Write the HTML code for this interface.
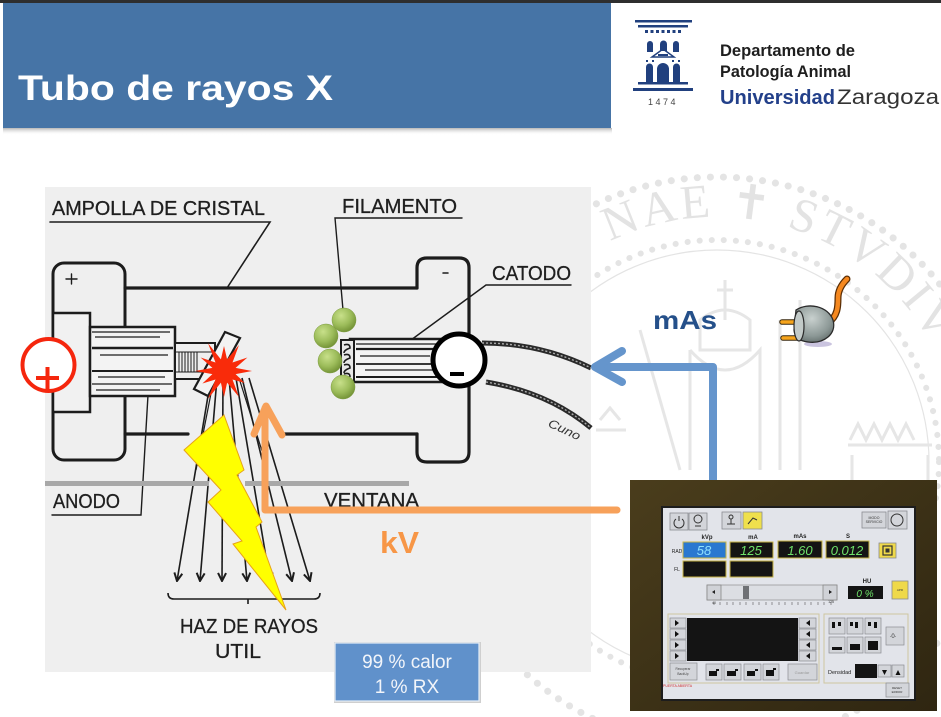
<!DOCTYPE html>
<html><head><meta charset="utf-8"><style>
html,body{margin:0;padding:0;width:941px;height:717px;overflow:hidden;background:#fff}
svg{display:block}
</style></head><body>
<svg width="941" height="717" viewBox="0 0 941 717" xmlns="http://www.w3.org/2000/svg" font-family="'Liberation Sans', sans-serif">
<defs>
 <radialGradient id="gb" cx="0.38" cy="0.32" r="0.75"><stop offset="0" stop-color="#c8e08a"/><stop offset="0.55" stop-color="#9cbc5a"/><stop offset="1" stop-color="#6d8c30"/></radialGradient>
 <radialGradient id="plg" cx="0.45" cy="0.35" r="0.8"><stop offset="0" stop-color="#c9d1cf"/><stop offset="0.6" stop-color="#8c9896"/><stop offset="1" stop-color="#505a58"/></radialGradient>
 <linearGradient id="sh" x1="0" y1="0" x2="0" y2="1"><stop offset="0" stop-color="#7a7a7a" stop-opacity="0.55"/><stop offset="1" stop-color="#fff" stop-opacity="0"/></linearGradient>
 <linearGradient id="frame" x1="0" y1="0" x2="1" y2="1"><stop offset="0" stop-color="#4a3d1c"/><stop offset="1" stop-color="#2f2611"/></linearGradient>
 <path id="arc" d="M472 462 A245 245 0 1 1 962 462"/>
 <marker id="ah" viewBox="0 0 10 10" refX="9" refY="5" markerWidth="10" markerHeight="10" markerUnits="userSpaceOnUse" orient="auto">
  <path d="M1 1 L9 5 L1 9" fill="none" stroke="#1c1c1c" stroke-width="2"/>
 </marker>
</defs>

<!-- watermark seal -->
<g fill="none" stroke="#e4e4e4">
 <circle cx="717" cy="462" r="285" stroke-width="7" stroke-dasharray="0.1 13" stroke-linecap="round"/>
 <circle cx="717" cy="462" r="222" stroke-width="6" stroke-dasharray="0.1 12" stroke-linecap="round"/>
 <circle cx="717" cy="462" r="212" stroke-width="1.2"/>
</g>
<text font-family="'Liberation Serif', 'DejaVu Serif', serif" font-size="48" fill="#e3e3e3"><textPath href="#arc" startOffset="274" textLength="372" lengthAdjust="spacing">NAE ✝ STVDIV</textPath></text>
<g fill="none" stroke="#e6e6e6" stroke-width="3">
 <path d="M725 280 v40 M717 290 h16"/>
 <path d="M700 320 q25 -20 50 0 v30 h-50 z"/>
 <path d="M690 350 q35 40 70 0 v120 M690 350 v120"/>
 <path d="M640 330 l40 140 M780 320 v150 M800 300 v170"/>
 <path d="M850 440 l8 -16 l8 16 l8 -16 l8 16 l8 -16 l8 16 l8 -16 l8 16 M848 445 h84 M852 455 v25 M928 455 v25"/>
 <path d="M600 420 l10 -12 l10 12 M596 430 h30"/>
</g>

<!-- top dark bar & banner -->
<rect x="0" y="0" width="941" height="3" fill="#2e2e2e"/>
<rect x="3" y="128" width="609" height="7" fill="url(#sh)"/>
<rect x="3" y="3" width="608" height="125" fill="#4674a6"/>
<text x="18" y="100" font-size="35" font-weight="bold" fill="#ffffff" textLength="315" lengthAdjust="spacingAndGlyphs">Tubo de rayos X</text>

<!-- logo -->
<g fill="#21407e">
 <rect x="635" y="20" width="57" height="2.5"/>
 <rect x="638" y="25" width="50" height="2.5"/>
 <rect x="645" y="30" width="3" height="3"/><rect x="650.5" y="30" width="3" height="3"/><rect x="656" y="30" width="3" height="3"/><rect x="661.5" y="30" width="3" height="3"/><rect x="667" y="30" width="3" height="3"/><rect x="672.5" y="30" width="3" height="3"/><rect x="678" y="30" width="3" height="3"/>
 <path d="M647 52 V44 A3 3 0 0 1 653 44 V52 Z"/>
 <path d="M660 51 V44 A3.5 3.5 0 0 1 667 44 V51 Z"/>
 <path d="M673 52 V44 A3 3 0 0 1 679 44 V52 Z"/>
 <path d="M652 57 L663 49 L674 57 Z" fill="none" stroke="#21407e" stroke-width="1.5"/>
 <rect x="658" y="54" width="10" height="2"/>
 <rect x="646" y="60" width="2" height="2"/><rect x="652" y="60" width="2" height="2"/><rect x="672" y="60" width="2" height="2"/><rect x="678" y="60" width="2" height="2"/>
 <path d="M646 82 V67 A3.5 3.5 0 0 1 653 67 V82 Z"/>
 <path d="M657 82 V69 A6 6 0 0 1 669 69 V82 Z"/>
 <path d="M673 82 V67 A3.5 3.5 0 0 1 680 67 V82 Z"/>
 <rect x="638" y="82" width="50" height="2.5"/>
 <rect x="633" y="88" width="60" height="3"/>
</g>
<text x="663" y="105" font-size="9" fill="#444" text-anchor="middle" letter-spacing="2.5">1474</text>
<text x="720" y="56" font-size="17" font-weight="bold" fill="#1e1e1e" textLength="135" lengthAdjust="spacingAndGlyphs">Departamento de</text>
<text x="720" y="77" font-size="17" font-weight="bold" fill="#1e1e1e" textLength="131" lengthAdjust="spacingAndGlyphs">Patología Animal</text>
<text x="720" y="104" font-size="20" font-weight="bold" fill="#23408a" textLength="115" lengthAdjust="spacingAndGlyphs">Universidad</text>
<text x="837" y="104" font-size="21" fill="#333333" textLength="102" lengthAdjust="spacingAndGlyphs">Zaragoza</text>

<!-- diagram background -->
<rect x="45" y="187" width="546" height="485" fill="#efefef"/>

<!-- labels -->
<g font-size="20" fill="#1f1f1f" stroke="#1f1f1f" stroke-width="0.3">
 <text x="52" y="215" textLength="213" lengthAdjust="spacingAndGlyphs">AMPOLLA DE CRISTAL</text>
 <text x="342" y="213" textLength="115" lengthAdjust="spacingAndGlyphs">FILAMENTO</text>
 <text x="492" y="280" textLength="79" lengthAdjust="spacingAndGlyphs">CATODO</text>
 <text x="53" y="508" textLength="67" lengthAdjust="spacingAndGlyphs">ANODO</text>
 <text x="324" y="507" textLength="95" lengthAdjust="spacingAndGlyphs">VENTANA</text>
 <text x="180" y="633" textLength="138" lengthAdjust="spacingAndGlyphs">HAZ DE RAYOS</text>
 <text x="215" y="658" textLength="46" lengthAdjust="spacingAndGlyphs">UTIL</text>
</g>

<g stroke="#1c1c1c" fill="none" stroke-linecap="round">
 <!-- leader lines -->
 <path d="M50 222 H270 L227 288" stroke-width="1.6"/>
 <path d="M462 218 H335 L343 310" stroke-width="1.4"/>
 <path d="M571 285 H486 L411 340" stroke-width="1.4"/>
 <path d="M148 395 L141 515 H52" stroke-width="1.4"/>

 <!-- anode housing -->
 <rect x="53" y="263" width="72" height="197" rx="11" stroke-width="3"/>
 <line x1="125" y1="288" x2="417" y2="288" stroke-width="3.2"/>
 <line x1="125" y1="434" x2="188" y2="434" stroke-width="3.2"/>
 <line x1="283" y1="434" x2="417" y2="434" stroke-width="3.2"/>
 <path d="M417 288 V268 Q417 258 427 258 H459 Q469 258 469 268 V452 Q469 462 459 462 H427 Q417 462 417 452 V434" stroke-width="3.2"/>
 <path d="M66 279 H77 M71.5 274 V284" stroke-width="1.4"/>
 <path d="M443 273 H448" stroke-width="1.5"/>
</g>
<rect x="53" y="313" width="37" height="99" fill="#f1f1f1" stroke="#1c1c1c" stroke-width="2.5"/>
<rect x="90" y="327" width="85" height="69" fill="#f3f3f3" stroke="#1c1c1c" stroke-width="2.5"/>
<g stroke="#1c1c1c" stroke-width="1.3">
 <line x1="92" y1="332" x2="170" y2="332"/><line x1="95" y1="337" x2="160" y2="337"/>
 <line x1="92" y1="348" x2="173" y2="348" stroke-width="2.5"/><line x1="100" y1="355" x2="168" y2="355"/>
 <line x1="92" y1="371" x2="173" y2="371" stroke-width="2"/><line x1="98" y1="377" x2="165" y2="377"/>
 <line x1="92" y1="384" x2="172" y2="384"/><line x1="96" y1="390" x2="160" y2="390"/>
</g>
<rect x="175" y="343" width="40" height="36" fill="#efefef" stroke="#1c1c1c" stroke-width="2"/>
<g stroke="#1c1c1c" stroke-width="1">
 <line x1="175" y1="352" x2="212" y2="352"/><line x1="175" y1="372" x2="212" y2="372"/>
 <line x1="179" y1="352" x2="179" y2="372"/><line x1="182" y1="352" x2="182" y2="372"/><line x1="185" y1="352" x2="185" y2="372"/><line x1="188" y1="352" x2="188" y2="372"/><line x1="191" y1="352" x2="191" y2="372"/><line x1="194" y1="352" x2="194" y2="372"/><line x1="197" y1="352" x2="197" y2="372"/>
</g>

<!-- rays -->
<g stroke="#1c1c1c" stroke-width="1.6" fill="none" marker-end="url(#ah)">
 <line x1="211" y1="378" x2="177" y2="581"/>
 <line x1="217" y1="378" x2="200" y2="581"/>
 <line x1="223" y1="378" x2="222" y2="581"/>
 <line x1="229" y1="378" x2="247" y2="581"/>
 <line x1="236" y1="378" x2="270" y2="581"/>
 <line x1="242" y1="378" x2="292" y2="581"/>
 <line x1="249" y1="378" x2="310" y2="581"/>
</g>
<g stroke="#1c1c1c" stroke-width="1.2">
 <line x1="214" y1="378" x2="196" y2="470"/>
 <line x1="239" y1="378" x2="268" y2="470"/>
</g>
<path d="M168 593 Q168 599 174 599 H314 Q320 599 320 593 M248 599 V604" stroke="#1c1c1c" stroke-width="1.6" fill="none"/>

<!-- target -->
<polygon points="225,332 240,338 208,396 194,389" fill="#f3f3f3" stroke="#1c1c1c" stroke-width="2.2"/>

<!-- red star -->
<polygon points="252,371 235.6,374.1 244.8,383 232.5,379.5 239,397 227.1,382.6 224,397 220.9,382.6 208,398.7 215.5,379.5 202.4,383.5 212.4,374.1 195,371 212.4,367.9 200.6,357.5 215.5,362.5 208,343.3 220.9,359.4 224,346 227.1,359.4 239,345 232.5,362.5 247.4,357.5 235.6,367.9" fill="#f92b0a"/>

<!-- window bars -->
<rect x="45" y="481" width="164" height="5" fill="#a8a8a8"/>
<rect x="245" y="481" width="164" height="5" fill="#a8a8a8"/>

<!-- lightning bolt -->
<polygon points="184,450 224,415 244,470 237,475 262,522 256,527 286,610 233,544 242,541 208,502 221,490" fill="#ffff00" stroke="#e8a317" stroke-width="1"/>

<!-- cathode cylinder -->
<rect x="350" y="339" width="93" height="43" fill="#f3f3f3" stroke="#1c1c1c" stroke-width="2.5"/>
<g stroke="#1c1c1c" stroke-width="1.2">
 <line x1="356" y1="344" x2="440" y2="344"/><line x1="356" y1="349" x2="440" y2="349" stroke-width="2.2"/>
 <line x1="360" y1="356" x2="430" y2="356"/><line x1="356" y1="364" x2="440" y2="364" stroke-width="1.8"/>
 <line x1="365" y1="370" x2="438" y2="370"/><line x1="356" y1="377" x2="440" y2="377" stroke-width="2"/>
</g>
<rect x="341" y="340" width="13" height="41" fill="#e8e8e8" stroke="#1c1c1c" stroke-width="2"/>
<path d="M344 345 q6 -2 6 3 q-6 2 -6 5 M344 355 q6 -2 6 3 q-6 2 -6 5 M344 365 q6 -2 6 3 q-6 2 -6 5 M344 374 q6 -2 6 3" stroke="#1c1c1c" stroke-width="1.6" fill="none"/>

<!-- cables -->
<g fill="none" stroke-linecap="butt">
 <path d="M482 343 Q540 343 591 368" stroke="#2a2a2a" stroke-width="5"/>
 <path d="M482 343 Q540 343 591 368" stroke="#aaa" stroke-width="1.4" stroke-dasharray="2 2"/>
 <path d="M486 382 Q548 392 591 428" stroke="#2a2a2a" stroke-width="5"/>
 <path d="M486 382 Q548 392 591 428" stroke="#aaa" stroke-width="1.4" stroke-dasharray="2 2"/>
</g>
<text x="546" y="432" font-size="12" font-style="italic" fill="#333" transform="rotate(25 560 432)" textLength="34" lengthAdjust="spacingAndGlyphs">Cuno</text>

<!-- green balls -->
<g fill="url(#gb)" stroke="#7a9a3c" stroke-width="0.5">
 <circle cx="344" cy="320" r="12"/>
 <circle cx="326" cy="336" r="12"/>
 <circle cx="330" cy="361" r="12"/>
 <circle cx="343" cy="387" r="12"/>
</g>

<!-- minus circle -->
<circle cx="459" cy="360" r="26" fill="#ffffff" stroke="#000" stroke-width="5"/>
<rect x="450" y="372" width="14" height="4" fill="#000"/>

<!-- plus circle -->
<circle cx="48.5" cy="365" r="26" fill="#ffffff" stroke="#f5260d" stroke-width="4"/>
<path d="M36 378 H59 M47.5 367 V392" stroke="#f5260d" stroke-width="4"/>

<!-- orange kV arrow -->
<g fill="none" stroke="#f7a15a" stroke-width="7" stroke-linecap="round" stroke-linejoin="round">
 <path d="M617 510 H265 V408"/>
 <path d="M254 434 L266 406 L282 435"/>
</g>
<text x="380" y="553" font-size="31" font-weight="bold" fill="#f79646" textLength="39" lengthAdjust="spacingAndGlyphs">kV</text>

<!-- blue mAs arrow -->
<g fill="none" stroke="#6595cc" stroke-width="8" stroke-linecap="round" stroke-linejoin="round">
 <path d="M713 493 V367 H596"/>
 <path d="M622 351 L595 367 L622 382"/>
</g>
<text x="653" y="329" font-size="26" font-weight="bold" fill="#25508a" textLength="64" lengthAdjust="spacingAndGlyphs">mAs</text>

<!-- plug -->
<ellipse cx="818" cy="344" rx="14" ry="3" fill="#a79cc9" opacity="0.6"/>
<path d="M828 323 C838 316 838 306 838 298 C838 290 842 284 847 279" fill="none" stroke="#5a2e06" stroke-width="7" stroke-linecap="round"/>
<path d="M828 323 C838 316 838 306 838 298 C838 290 842 284 847 279" fill="none" stroke="#f5881f" stroke-width="4.5" stroke-linecap="round"/>
<path d="M782 322 H803 M783 338 H803" stroke="#3a2a10" stroke-width="5.5" stroke-linecap="round"/>
<path d="M782 322 H803 M783 338 H803" stroke="#f6a41c" stroke-width="3.5" stroke-linecap="round"/>
<path d="M796 310 C808 302 828 306 833 320 C837 334 824 344 808 342 C800 341 795 338 794 330 Z" fill="url(#plg)" stroke="#2a2a2a" stroke-width="1.3"/>
<ellipse cx="799" cy="326" rx="5" ry="15" fill="#c2cac8" stroke="#2a2a2a" stroke-width="1.2"/>

<!-- 99% box -->
<rect x="334" y="642" width="147" height="61" fill="#cfcfcf"/>
<rect x="335" y="643" width="144" height="58" fill="#6091cb" stroke="#e7eef7" stroke-width="1.2"/>
<text x="407" y="668" font-size="19" fill="#f2f5fa" text-anchor="middle">99 % calor</text>
<text x="407" y="693" font-size="19" fill="#f2f5fa" text-anchor="middle">1 % RX</text>

<!-- control panel photo -->
<rect x="630" y="480" width="307" height="231" fill="url(#frame)"/>
<rect x="662" y="507" width="253" height="193" fill="#e2e4ea" stroke="#1d1d1d" stroke-width="2"/>
<g fill="#d3d5da" stroke="#8a8c92" stroke-width="0.8">
 <rect x="670" y="513" width="18" height="17"/><rect x="689" y="513" width="18" height="17"/>
 <rect x="722" y="512" width="19" height="17"/>
 <rect x="862" y="512" width="24" height="16"/><rect x="888" y="511" width="19" height="18"/>
</g>
<rect x="743" y="512" width="19" height="17" fill="#efe04c" stroke="#8a8c92" stroke-width="0.8"/>
<g fill="none" stroke="#333" stroke-width="1">
 <path d="M676 519 A5 5 0 1 0 682 519 M679 516 V521"/>
 <circle cx="698" cy="519" r="4"/><path d="M695 526 h6"/>
 <circle cx="731" cy="517" r="2"/><path d="M727 524 h8 M731 519 v5"/>
 <path d="M748 524 l5 -6 l4 2"/>
 <circle cx="897" cy="520" r="6"/>
</g>
<text x="874" y="519" font-size="3.5" fill="#333" text-anchor="middle">MODO</text>
<text x="874" y="523" font-size="3.5" fill="#333" text-anchor="middle">SERVICIO</text>
<g font-size="6" fill="#222" text-anchor="middle" font-weight="bold">
 <text x="707" y="539">kVp</text><text x="753" y="539">mA</text><text x="800" y="538">mAs</text><text x="848" y="538">S</text>
 <text x="677" y="553" font-weight="normal" font-size="5">RAD</text><text x="677" y="571" font-weight="normal" font-size="5">FL</text>
</g>
<rect x="683" y="542" width="43" height="16" fill="#2a78d0" stroke="#c8b545" stroke-width="1"/>
<g fill="#141414" stroke="#c8b545" stroke-width="1">
 <rect x="730" y="542" width="43" height="16"/><rect x="778" y="541" width="44" height="17"/><rect x="826" y="541" width="43" height="17"/>
 <rect x="683" y="561" width="43" height="16"/><rect x="730" y="561" width="43" height="16"/>
</g>
<g font-size="13" font-style="italic" text-anchor="middle">
 <text x="704" y="555" fill="#8fe0ff">58</text>
 <text x="751" y="555" fill="#6fe26a">125</text>
 <text x="800" y="555" fill="#6fe26a">1.60</text>
 <text x="847" y="555" fill="#6fe26a">0.012</text>
</g>
<rect x="879" y="543" width="17" height="15" fill="#efd94a" stroke="#8a8c92" stroke-width="0.8"/>
<rect x="883" y="546" width="9" height="9" fill="none" stroke="#333" stroke-width="1.2"/>
<rect x="885.5" y="548.5" width="4" height="4" fill="#333"/>
<rect x="707" y="585" width="130" height="15" fill="#dcdee3" stroke="#999" stroke-width="0.8"/>
<rect x="707" y="585" width="14" height="15" fill="#d0d2d7" stroke="#888" stroke-width="0.8"/>
<rect x="823" y="585" width="14" height="15" fill="#d0d2d7" stroke="#888" stroke-width="0.8"/>
<rect x="743" y="586" width="6" height="13" fill="#6f7175"/>
<path d="M712 592 l3 -2 v4 z M832 592 l-3 -2 v4 z" fill="#222"/>
<path d="M714 602 v3 M720 602 v3 M727 602 v3 M733 602 v3 M740 602 v3 M746 602 v3 M753 602 v3 M759 602 v3 M766 602 v3 M772 602 v3 M779 602 v3 M785 602 v3 M792 602 v3 M798 602 v3 M805 602 v3 M811 602 v3 M818 602 v3 M824 602 v3 M831 602 v3" stroke="#555" stroke-width="0.6"/>
<text x="714" y="604" font-size="3.5" fill="#333" text-anchor="middle">40</text>
<text x="831" y="603" font-size="3.5" fill="#333" text-anchor="middle">125</text>
<text x="867" y="583" font-size="6" font-weight="bold" fill="#222" text-anchor="middle">HU</text>
<rect x="848" y="586" width="35" height="13" fill="#141414"/>
<text x="865" y="597" font-size="10" font-style="italic" fill="#6fe26a" text-anchor="middle">0 %</text>
<rect x="892" y="581" width="16" height="18" fill="#efd94a" stroke="#8a8c92" stroke-width="0.8"/>
<text x="900" y="591" font-size="3" fill="#333" text-anchor="middle">APR</text>
<rect x="668" y="614" width="151" height="69" fill="none" stroke="#cfc6a0" stroke-width="1"/>
<rect x="824" y="614" width="84" height="69" fill="none" stroke="#cfc6a0" stroke-width="1"/>
<g fill="#d3d5da" stroke="#8a8c92" stroke-width="0.7">
 <rect x="670" y="618" width="16" height="10"/><rect x="670" y="629" width="16" height="10"/><rect x="670" y="640" width="16" height="10"/><rect x="670" y="651" width="16" height="10"/>
 <rect x="799" y="618" width="17" height="10"/><rect x="799" y="629" width="17" height="10"/><rect x="799" y="640" width="17" height="10"/><rect x="799" y="651" width="17" height="10"/>
 <rect x="670" y="663" width="27" height="17"/>
 <rect x="706" y="664" width="16" height="16"/><rect x="724" y="664" width="17" height="16"/><rect x="744" y="664" width="17" height="16"/><rect x="763" y="664" width="16" height="16"/>
 <rect x="788" y="664" width="29" height="16"/>
 <rect x="829" y="618" width="16" height="16"/><rect x="847" y="618" width="16" height="16"/><rect x="865" y="618" width="16" height="16"/>
 <rect x="829" y="637" width="16" height="16"/><rect x="847" y="637" width="16" height="16"/><rect x="865" y="637" width="16" height="16"/>
 <rect x="886" y="627" width="18" height="18"/>
 <rect x="878" y="665" width="13" height="12"/><rect x="892" y="665" width="12" height="12"/>
 <rect x="886" y="683" width="23" height="14"/>
</g>
<g fill="#111">
 <path d="M675 620 l4 3 l-4 3 z M675 631 l4 3 l-4 3 z M675 642 l4 3 l-4 3 z M675 653 l4 3 l-4 3 z"/>
 <path d="M810 620 l-4 3 l4 3 z M810 631 l-4 3 l4 3 z M810 642 l-4 3 l4 3 z M810 653 l-4 3 l4 3 z"/>
 <path d="M709 676 h8 v-5 h2 v-2 h-3 v2 h-7 z M727 676 h9 v-5 h2 v-2 h-3 v2 h-8 z M747 676 h8 v-5 h3 v-2 h-3 v2 h-8 z M766 676 h8 v-6 h2 v-2 h-3 v2 h-7 z"/>
 <rect x="832" y="622" width="3" height="6"/><rect x="838" y="622" width="3" height="4"/>
 <rect x="850" y="622" width="3" height="4"/><rect x="855" y="622" width="3" height="6"/>
 <rect x="868" y="622" width="3" height="4"/><rect x="874" y="622" width="3" height="6"/>
 <rect x="832" y="647" width="10" height="3"/><rect x="850" y="644" width="10" height="6"/><rect x="868" y="641" width="10" height="9"/>
 <path d="M884.5 675 l-2.5 -5 h5 z M898 670 l-2.5 5 h5 z"/>
</g>
<rect x="687" y="618" width="111" height="43" fill="#141414"/>
<rect x="855" y="664" width="22" height="14" fill="#141414"/>
<text x="893" y="638" font-size="6" fill="#333" text-anchor="middle">·0·</text>
<text x="683" y="670" font-size="3.2" fill="#444" text-anchor="middle">Recuperar</text>
<text x="683" y="675" font-size="3.2" fill="#444" text-anchor="middle">BackUp</text>
<text x="802" y="674" font-size="4" fill="#999" text-anchor="middle">Guardar</text>
<text x="828" y="674" font-size="5.5" fill="#222">Densidad</text>
<text x="663" y="687" font-size="3.5" fill="#d03030">PUERTA ABIERTA</text>
<text x="897" y="689" font-size="3" fill="#333" text-anchor="middle">RESET</text>
<text x="897" y="693" font-size="3" fill="#333" text-anchor="middle">ERROR</text>
</svg>
</body></html>
